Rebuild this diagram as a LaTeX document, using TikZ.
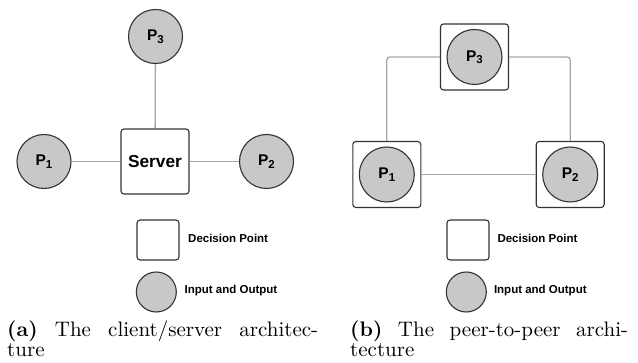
\documentclass[tikz,border=0pt]{standalone}
\usepackage{fontspec}
\newfontfamily\diagfont{Liberation Sans}
\newfontfamily\capfont{lmroman10}[Extension=.otf, UprightFont=*-regular, BoldFont=*-bold]
\definecolor{edgegray}{HTML}{333333}
\definecolor{linkgray}{HTML}{A6A6A6}
\definecolor{iofill}{HTML}{C8C8C8}
\tikzset{
  iocircle/.style={circle, draw=edgegray, line width=1.1pt, fill=iofill, minimum size=54pt, inner sep=0pt, font=\diagfont\bfseries\fontsize{15.5}{15.5}\selectfont},
  decbox/.style={rectangle, draw=edgegray, line width=1.1pt, fill=white, rounded corners=3pt, minimum width=68pt, minimum height=66pt, inner sep=0pt},
  link/.style={draw=linkgray, line width=1.3pt},
  legendtext/.style={anchor=west, inner sep=0pt, font=\diagfont\bfseries\fontsize{11.5}{11.5}\selectfont},
  captext/.style={anchor=north west, inner sep=0pt, font=\capfont\fontsize{21}{19.5}\selectfont}
}
\newcommand{\peer}[1]{P\raisebox{-2.5pt}{\fontsize{11.5}{11.5}\selectfont #1}}
\begin{document}
\begin{tikzpicture}[x=1pt, y=-1pt]
\useasboundingbox (0,0) rectangle (638,363);

% client/server
\node[decbox, minimum height=65pt, font=\diagfont\bfseries\fontsize{17.3}{17.3}\selectfont] (server) at (155,161.5) {Server};
\node[iocircle] (p1) at (44,161.5) {\peer{1}};
\node[iocircle] (p2) at (266.5,161.5) {\peer{2}};
\node[iocircle] (p3) at (155.5,36.5) {\peer{3}};
\draw[link] (p1) -- (server);
\draw[link] (server) -- (p2);
\draw[link] (p3) -- (server);

% peer-to-peer
\node[decbox] (q1box) at (386.8,174.5) {};
\node[decbox] (q2box) at (570.2,174.5) {};
\node[decbox] (q3box) at (474.5,57) {};
\node[iocircle, minimum size=55pt] (q1) at (q1box) {\peer{1}};
\node[iocircle, minimum size=55pt] (q2) at (q2box) {\peer{2}};
\node[iocircle, minimum size=55pt] (q3) at (q3box) {\peer{3}};
\draw[link] (q1box) -- (q2box);
\draw[link, rounded corners=3pt] (q3box.west) -| (q1box.north);
\draw[link, rounded corners=3pt] (q3box.east) -| (q2box.north);

% legends
\foreach \lx/\tx/\name in {158/188/a, 468/497.3/b} {
  \node[decbox, minimum width=42pt, minimum height=40pt] (dec\name) at (\lx,240) {};
  \node[iocircle, minimum size=40pt] (io\name) at (\lx-1.7,292) {};
  \node[legendtext] (dectext\name) at (\tx,238) {Decision Point};
  \node[legendtext] (iotext\name) at (\tx-3.5,291) {Input and Output};
}

% captions
\node[captext] (capa) at (7,321) {\begin{tabular}{@{}l@{}}\makebox[311pt][s]{\textbf{(a)} The client/server architec-}\\ ture\end{tabular}};
\node[captext] (capb) at (350,321) {\begin{tabular}{@{}l@{}}\makebox[278pt][s]{\textbf{(b)} The peer-to-peer archi-}\\ tecture\end{tabular}};
\end{tikzpicture}
\end{document}
